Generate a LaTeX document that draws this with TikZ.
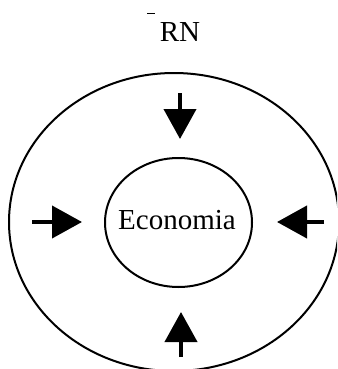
\documentclass[tikz,border=0pt]{standalone}
\usepackage{fontspec}
\setmainfont{Liberation Serif}
\usetikzlibrary{arrows.meta}
\usetikzlibrary{shapes.geometric}
\tikzset{>={Triangle[length=30pt,width=32pt]}}

\begin{document}
\begin{tikzpicture}[x=1pt, y=-1pt]
      \useasboundingbox (0, 0) rectangle (337, 369);
      \clip (0, 0) rectangle (337, 369);
      % title
      \draw[line width=1pt] (147, 14) -- (155, 14);
      \node[font=\fontsize{29}{30}\selectfont] (rn) at (180, 32) {RN};
      % ellipses
      \node[draw, ellipse, line width=2pt, minimum width=330pt, minimum height=298pt, inner sep=0pt] (rnring) at (174, 222) {};
      \node[draw, ellipse, line width=2pt, minimum width=147pt, minimum height=129pt, inner sep=0pt] (eco) at (178.5, 222.5) {};
      \node[font=\fontsize{29}{30}\selectfont, anchor=base, inner sep=0pt] (ecotxt) at (177, 229) {Economia};
      % arrows
      \coordinate (ntail) at (180, 93);   \coordinate (ntip) at (180, 139);
      \coordinate (stail) at (181, 357);  \coordinate (stip) at (181, 312);
      \coordinate (wtail) at (32, 222);   \coordinate (wtip) at (82, 222);
      \coordinate (etail) at (324, 222);  \coordinate (etip) at (277, 222);
      \draw[->, line width=4pt] (ntail) -- (ntip);
      \draw[->, line width=4pt] (stail) -- (stip);
      \draw[->, line width=4pt] (wtail) -- (wtip);
      \draw[->, line width=4pt] (etail) -- (etip);
\end{tikzpicture}
\end{document}
